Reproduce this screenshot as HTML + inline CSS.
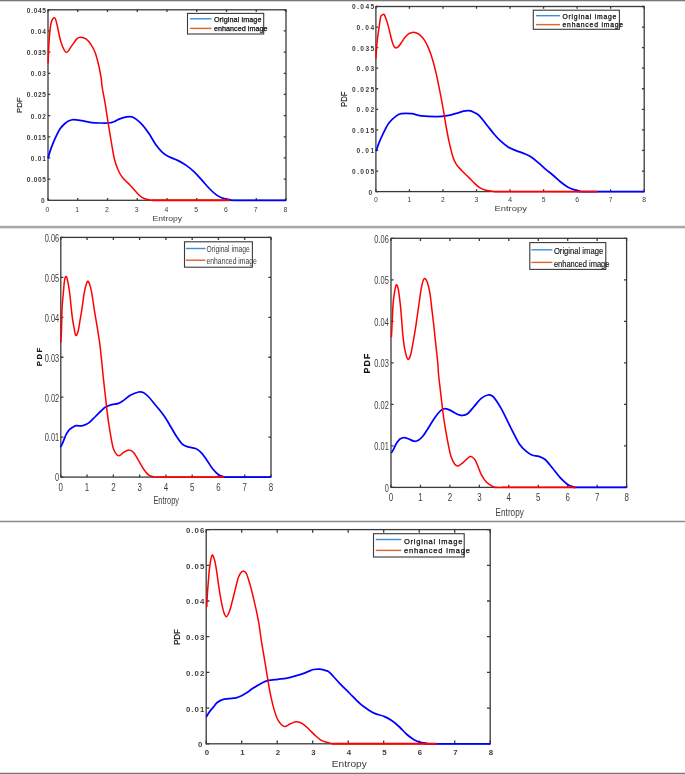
<!DOCTYPE html>
<html><head><meta charset="utf-8"><title>PDF vs Entropy</title>
<style>
html,body{margin:0;padding:0;background:#fff;}
body{width:685px;height:774px;overflow:hidden;}
svg{display:block;}
text{font-family:"Liberation Sans",sans-serif;fill:#3c3c3c;}
.heavy{fill:#111;stroke:#111;stroke-width:0.25px;}
.bold{font-weight:bold;}
.dark{fill:#111;stroke:#111;stroke-width:0.15px;}
</style></head><body>
<svg width="685" height="774" viewBox="0 0 685 774">
<rect x="0" y="0" width="685" height="774" fill="#fff"/>
<rect x="0" y="0" width="685" height="1" fill="#777"/>
<rect x="0" y="1" width="685" height="1" fill="#d8d8d8"/>
<rect x="0" y="225" width="685" height="1" fill="#ececec"/>
<rect x="0" y="226" width="685" height="2" fill="#a8a8a8"/>
<rect x="0" y="228" width="685" height="1" fill="#e2e2e2"/>
<rect x="0" y="520" width="685" height="1" fill="#dedede"/>
<rect x="0" y="521" width="685" height="1" fill="#8f8f8f"/>
<rect x="0" y="522" width="685" height="1" fill="#e0e0e0"/>
<rect x="0" y="773" width="685" height="1" fill="#777"/>
<rect x="0" y="772" width="685" height="1" fill="#dcdcdc"/>
<rect x="48.00" y="9.80" width="238.00" height="190.50" fill="none" stroke="#3a3a3a" stroke-width="1.30"/>
<path d="M48.00,200.30 v-2.30 M48.00,9.80 v2.30 M77.75,200.30 v-2.30 M77.75,9.80 v2.30 M107.50,200.30 v-2.30 M107.50,9.80 v2.30 M137.25,200.30 v-2.30 M137.25,9.80 v2.30 M167.00,200.30 v-2.30 M167.00,9.80 v2.30 M196.75,200.30 v-2.30 M196.75,9.80 v2.30 M226.50,200.30 v-2.30 M226.50,9.80 v2.30 M256.25,200.30 v-2.30 M256.25,9.80 v2.30 M286.00,200.30 v-2.30 M286.00,9.80 v2.30 M48.00,200.30 h2.30 M286.00,200.30 h-2.30 M48.00,179.13 h2.30 M286.00,179.13 h-2.30 M48.00,157.97 h2.30 M286.00,157.97 h-2.30 M48.00,136.80 h2.30 M286.00,136.80 h-2.30 M48.00,115.63 h2.30 M286.00,115.63 h-2.30 M48.00,94.47 h2.30 M286.00,94.47 h-2.30 M48.00,73.30 h2.30 M286.00,73.30 h-2.30 M48.00,52.13 h2.30 M286.00,52.13 h-2.30 M48.00,30.97 h2.30 M286.00,30.97 h-2.30 M48.00,9.80 h2.30 M286.00,9.80 h-2.30" stroke="#3a3a3a" stroke-width="1.3"/>
<path d="M48.10,158.20 C48.43,157.02 49.25,153.65 50.10,151.10 C50.95,148.55 52.17,145.45 53.20,142.90 C54.23,140.35 55.12,138.18 56.30,135.80 C57.48,133.42 58.95,130.57 60.30,128.60 C61.65,126.63 63.03,125.27 64.40,124.00 C65.77,122.73 66.97,121.73 68.50,121.00 C70.03,120.27 71.38,119.65 73.60,119.60 C75.82,119.55 79.07,120.25 81.80,120.70 C84.53,121.15 86.93,121.92 90.00,122.30 C93.07,122.68 97.13,122.88 100.20,123.00 C103.27,123.12 106.10,123.22 108.40,123.00 C110.70,122.78 112.12,122.38 114.00,121.70 C115.88,121.02 117.60,119.72 119.70,118.90 C121.80,118.08 124.57,117.15 126.60,116.80 C128.63,116.45 130.27,116.37 131.90,116.80 C133.53,117.23 134.58,117.98 136.40,119.40 C138.22,120.82 140.65,122.85 142.80,125.30 C144.95,127.75 147.15,130.90 149.30,134.10 C151.45,137.30 153.57,141.50 155.70,144.50 C157.83,147.50 159.97,150.08 162.10,152.10 C164.23,154.12 165.82,155.18 168.50,156.60 C171.18,158.02 175.25,159.13 178.20,160.60 C181.15,162.07 183.53,163.53 186.20,165.40 C188.87,167.27 191.52,169.25 194.20,171.80 C196.88,174.35 199.62,177.75 202.30,180.70 C204.98,183.65 207.90,187.10 210.30,189.50 C212.70,191.90 214.57,193.63 216.70,195.10 C218.83,196.57 220.95,197.55 223.10,198.30 C225.25,199.05 227.78,199.27 229.60,199.60 C231.42,199.93 224.60,200.18 234.00,200.30 C243.40,200.42 277.33,200.30 286.00,200.30" fill="none" stroke="#0000ff" stroke-width="1.75" stroke-linejoin="round" stroke-linecap="butt"/>
<path d="M48.10,63.20 C48.28,59.25 48.68,46.28 49.20,39.50 C49.72,32.72 50.28,26.10 51.20,22.50 C52.12,18.90 53.72,17.47 54.70,17.90 C55.68,18.33 56.05,21.05 57.10,25.10 C58.15,29.15 59.47,37.65 61.00,42.20 C62.53,46.75 64.55,51.75 66.30,52.40 C68.05,53.05 69.75,48.35 71.50,46.10 C73.25,43.85 75.27,40.38 76.80,38.90 C78.33,37.42 79.17,37.20 80.70,37.20 C82.23,37.20 84.25,37.63 86.00,38.90 C87.75,40.17 89.67,42.50 91.20,44.80 C92.73,47.10 93.98,49.42 95.20,52.70 C96.42,55.98 97.52,60.35 98.50,64.50 C99.48,68.65 100.48,73.77 101.10,77.60 C101.72,81.43 101.58,83.53 102.20,87.50 C102.82,91.47 103.92,96.17 104.80,101.40 C105.68,106.63 106.77,114.25 107.50,118.90 C108.23,123.55 108.48,124.95 109.20,129.30 C109.92,133.65 110.93,140.05 111.80,145.00 C112.67,149.95 113.38,154.92 114.40,159.00 C115.42,163.08 116.58,166.45 117.90,169.50 C119.22,172.55 120.27,174.68 122.30,177.30 C124.33,179.92 127.63,182.58 130.10,185.20 C132.57,187.82 135.05,190.92 137.10,193.00 C139.15,195.08 140.65,196.62 142.40,197.70 C144.15,198.78 146.00,199.07 147.60,199.50 C149.20,199.93 151.27,200.17 152.00,200.30" fill="none" stroke="#ff0000" stroke-width="1.50" stroke-linejoin="round"/>
<path d="M152.00,200.30 H229.70" fill="none" stroke="#ff0000" stroke-width="1.90"/>
<text x="44.60" y="203.20" font-size="6.60" font-weight="bold" text-anchor="end" textLength="3.85" lengthAdjust="spacing">0</text>
<text x="46.00" y="182.03" font-size="6.60" font-weight="bold" text-anchor="end" textLength="19.20" lengthAdjust="spacing">0.005</text>
<text x="46.00" y="160.87" font-size="6.60" font-weight="bold" text-anchor="end" textLength="15.35" lengthAdjust="spacing">0.01</text>
<text x="46.00" y="139.70" font-size="6.60" font-weight="bold" text-anchor="end" textLength="19.20" lengthAdjust="spacing">0.015</text>
<text x="46.00" y="118.53" font-size="6.60" font-weight="bold" text-anchor="end" textLength="15.35" lengthAdjust="spacing">0.02</text>
<text x="46.00" y="97.37" font-size="6.60" font-weight="bold" text-anchor="end" textLength="19.20" lengthAdjust="spacing">0.025</text>
<text x="46.00" y="76.20" font-size="6.60" font-weight="bold" text-anchor="end" textLength="15.35" lengthAdjust="spacing">0.03</text>
<text x="46.00" y="55.03" font-size="6.60" font-weight="bold" text-anchor="end" textLength="19.20" lengthAdjust="spacing">0.035</text>
<text x="46.00" y="33.87" font-size="6.60" font-weight="bold" text-anchor="end" textLength="15.35" lengthAdjust="spacing">0.04</text>
<text x="46.00" y="12.70" font-size="6.60" font-weight="bold" text-anchor="end" textLength="19.20" lengthAdjust="spacing">0.045</text>
<text x="47.50" y="212.00" font-size="6.80" font-weight="normal" text-anchor="middle">0</text>
<text x="77.25" y="212.00" font-size="6.80" font-weight="normal" text-anchor="middle">1</text>
<text x="107.00" y="212.00" font-size="6.80" font-weight="normal" text-anchor="middle">2</text>
<text x="136.75" y="212.00" font-size="6.80" font-weight="normal" text-anchor="middle">3</text>
<text x="166.50" y="212.00" font-size="6.80" font-weight="normal" text-anchor="middle">4</text>
<text x="196.25" y="212.00" font-size="6.80" font-weight="normal" text-anchor="middle">5</text>
<text x="226.00" y="212.00" font-size="6.80" font-weight="normal" text-anchor="middle">6</text>
<text x="255.75" y="212.00" font-size="6.80" font-weight="normal" text-anchor="middle">7</text>
<text x="285.50" y="212.00" font-size="6.80" font-weight="normal" text-anchor="middle">8</text>
<text x="152.60" y="220.60" font-size="7.60" textLength="29.50" lengthAdjust="spacingAndGlyphs">Entropy</text>
<text transform="translate(22.00,113.00) rotate(-90)" font-size="7.80" class="dark" font-weight="normal" textLength="15.50" lengthAdjust="spacingAndGlyphs">PDF</text>
<rect x="187.50" y="13.40" width="76.20" height="20.60" fill="#fff" stroke="#3a3a3a" stroke-width="1.1"/>
<path d="M190.00,18.80 H211.50" stroke="#3a8fd9" stroke-width="1.4"/>
<path d="M190.00,28.40 H211.50" stroke="#e0632b" stroke-width="1.4"/>
<text x="213.90" y="22.00" font-size="7.20" class="heavy" textLength="47.50" lengthAdjust="spacing">Original image</text>
<text x="213.90" y="31.20" font-size="7.20" class="heavy" textLength="53.60" lengthAdjust="spacing">enhanced image</text>
<rect x="375.90" y="6.50" width="268.30" height="185.10" fill="none" stroke="#3a3a3a" stroke-width="1.30"/>
<path d="M375.90,191.60 v-2.30 M375.90,6.50 v2.30 M409.44,191.60 v-2.30 M409.44,6.50 v2.30 M442.98,191.60 v-2.30 M442.98,6.50 v2.30 M476.51,191.60 v-2.30 M476.51,6.50 v2.30 M510.05,191.60 v-2.30 M510.05,6.50 v2.30 M543.59,191.60 v-2.30 M543.59,6.50 v2.30 M577.12,191.60 v-2.30 M577.12,6.50 v2.30 M610.66,191.60 v-2.30 M610.66,6.50 v2.30 M644.20,191.60 v-2.30 M644.20,6.50 v2.30 M375.90,191.60 h2.30 M644.20,191.60 h-2.30 M375.90,171.03 h2.30 M644.20,171.03 h-2.30 M375.90,150.47 h2.30 M644.20,150.47 h-2.30 M375.90,129.90 h2.30 M644.20,129.90 h-2.30 M375.90,109.33 h2.30 M644.20,109.33 h-2.30 M375.90,88.77 h2.30 M644.20,88.77 h-2.30 M375.90,68.20 h2.30 M644.20,68.20 h-2.30 M375.90,47.63 h2.30 M644.20,47.63 h-2.30 M375.90,27.07 h2.30 M644.20,27.07 h-2.30 M375.90,6.50 h2.30 M644.20,6.50 h-2.30" stroke="#3a3a3a" stroke-width="1.3"/>
<path d="M376.10,151.10 C376.58,149.73 377.73,146.02 379.00,142.90 C380.27,139.78 382.05,135.72 383.70,132.40 C385.35,129.08 386.95,125.63 388.90,123.00 C390.85,120.37 393.35,118.15 395.40,116.60 C397.45,115.05 398.48,114.18 401.20,113.70 C403.92,113.22 408.40,113.35 411.70,113.70 C415.00,114.05 416.72,115.32 421.00,115.80 C425.28,116.28 433.05,116.62 437.40,116.60 C441.75,116.58 443.97,116.23 447.10,115.70 C450.23,115.17 453.48,114.15 456.20,113.40 C458.92,112.65 461.28,111.65 463.40,111.20 C465.52,110.75 467.08,110.48 468.90,110.70 C470.72,110.92 472.50,111.60 474.30,112.50 C476.10,113.40 477.58,113.98 479.70,116.10 C481.82,118.22 484.58,122.18 487.00,125.20 C489.42,128.22 491.90,131.53 494.20,134.20 C496.50,136.87 498.48,139.07 500.80,141.20 C503.12,143.33 505.67,145.47 508.10,147.00 C510.53,148.53 512.72,149.30 515.40,150.40 C518.08,151.50 521.52,152.47 524.20,153.60 C526.88,154.73 529.07,155.62 531.50,157.20 C533.93,158.78 536.37,161.03 538.80,163.10 C541.23,165.17 543.67,167.53 546.10,169.60 C548.53,171.67 550.97,173.43 553.40,175.50 C555.83,177.57 558.27,180.05 560.70,182.00 C563.13,183.95 565.57,185.85 568.00,187.20 C570.43,188.55 573.35,189.45 575.30,190.10 C577.25,190.75 578.42,190.85 579.70,191.10 C580.98,191.35 572.25,191.52 583.00,191.60 C593.75,191.68 634.00,191.60 644.20,191.60" fill="none" stroke="#0000ff" stroke-width="1.75" stroke-linejoin="round" stroke-linecap="butt"/>
<path d="M375.90,58.60 C376.02,56.82 376.32,51.38 376.60,47.90 C376.88,44.42 377.17,41.27 377.60,37.70 C378.03,34.13 378.68,29.98 379.20,26.50 C379.72,23.02 380.20,18.72 380.70,16.80 C381.20,14.88 381.63,15.40 382.20,15.00 C382.77,14.60 383.50,13.85 384.10,14.40 C384.70,14.95 385.18,16.63 385.80,18.30 C386.42,19.97 387.12,22.02 387.80,24.40 C388.48,26.78 389.22,29.87 389.90,32.60 C390.58,35.33 391.22,38.50 391.90,40.80 C392.58,43.10 393.32,45.22 394.00,46.40 C394.68,47.58 395.23,47.90 396.00,47.90 C396.77,47.90 397.67,47.33 398.60,46.40 C399.53,45.47 400.58,43.75 401.60,42.30 C402.62,40.85 403.50,39.15 404.70,37.70 C405.90,36.25 407.52,34.48 408.80,33.60 C410.08,32.72 411.22,32.53 412.40,32.40 C413.58,32.27 414.63,32.35 415.90,32.80 C417.17,33.25 418.63,33.95 420.00,35.10 C421.37,36.25 422.82,37.82 424.10,39.70 C425.38,41.58 426.58,44.02 427.70,46.40 C428.82,48.78 429.87,51.37 430.80,54.00 C431.73,56.63 432.45,59.13 433.30,62.20 C434.15,65.27 435.25,69.75 435.90,72.40 C436.55,75.05 436.38,74.13 437.20,78.10 C438.02,82.07 439.75,90.77 440.80,96.20 C441.85,101.63 442.60,105.57 443.50,110.70 C444.40,115.83 445.28,121.88 446.20,127.00 C447.12,132.12 447.93,136.58 449.00,141.40 C450.07,146.22 451.40,152.12 452.60,155.90 C453.80,159.68 454.70,161.68 456.20,164.10 C457.70,166.52 459.48,168.15 461.60,170.40 C463.72,172.65 466.78,175.48 468.90,177.60 C471.02,179.72 472.50,181.43 474.30,183.10 C476.10,184.77 477.88,186.45 479.70,187.60 C481.52,188.75 483.38,189.43 485.20,190.00 C487.02,190.57 489.13,190.73 490.60,191.00 C492.07,191.27 493.43,191.50 494.00,191.60" fill="none" stroke="#ff0000" stroke-width="1.50" stroke-linejoin="round"/>
<path d="M494.00,191.60 H597.25" fill="none" stroke="#ff0000" stroke-width="1.90"/>
<text x="372.10" y="194.50" font-size="6.60" font-weight="bold" text-anchor="end" textLength="4.40" lengthAdjust="spacing">0</text>
<text x="374.10" y="173.93" font-size="6.60" font-weight="bold" text-anchor="end" textLength="22.00" lengthAdjust="spacing">0.005</text>
<text x="374.10" y="153.37" font-size="6.60" font-weight="bold" text-anchor="end" textLength="17.60" lengthAdjust="spacing">0.01</text>
<text x="374.10" y="132.80" font-size="6.60" font-weight="bold" text-anchor="end" textLength="22.00" lengthAdjust="spacing">0.015</text>
<text x="374.10" y="112.23" font-size="6.60" font-weight="bold" text-anchor="end" textLength="17.60" lengthAdjust="spacing">0.02</text>
<text x="374.10" y="91.67" font-size="6.60" font-weight="bold" text-anchor="end" textLength="22.00" lengthAdjust="spacing">0.025</text>
<text x="374.10" y="71.10" font-size="6.60" font-weight="bold" text-anchor="end" textLength="17.60" lengthAdjust="spacing">0.03</text>
<text x="374.10" y="50.53" font-size="6.60" font-weight="bold" text-anchor="end" textLength="22.00" lengthAdjust="spacing">0.035</text>
<text x="374.10" y="29.97" font-size="6.60" font-weight="bold" text-anchor="end" textLength="17.60" lengthAdjust="spacing">0.04</text>
<text x="374.10" y="9.40" font-size="6.60" font-weight="bold" text-anchor="end" textLength="22.00" lengthAdjust="spacing">0.045</text>
<text x="375.90" y="201.80" font-size="6.80" font-weight="normal" text-anchor="middle">0</text>
<text x="409.44" y="201.80" font-size="6.80" font-weight="normal" text-anchor="middle">1</text>
<text x="442.98" y="201.80" font-size="6.80" font-weight="normal" text-anchor="middle">2</text>
<text x="476.51" y="201.80" font-size="6.80" font-weight="normal" text-anchor="middle">3</text>
<text x="510.05" y="201.80" font-size="6.80" font-weight="normal" text-anchor="middle">4</text>
<text x="543.59" y="201.80" font-size="6.80" font-weight="normal" text-anchor="middle">5</text>
<text x="577.12" y="201.80" font-size="6.80" font-weight="normal" text-anchor="middle">6</text>
<text x="610.66" y="201.80" font-size="6.80" font-weight="normal" text-anchor="middle">7</text>
<text x="644.20" y="201.80" font-size="6.80" font-weight="normal" text-anchor="middle">8</text>
<text x="494.40" y="211.40" font-size="8.00" textLength="32.50" lengthAdjust="spacingAndGlyphs">Entropy</text>
<text transform="translate(347.20,107.00) rotate(-90)" font-size="8.80" class="dark" font-weight="normal" textLength="15.40" lengthAdjust="spacingAndGlyphs">PDF</text>
<rect x="533.30" y="10.20" width="86.10" height="19.10" fill="#fff" stroke="#3a3a3a" stroke-width="1.1"/>
<path d="M536.00,15.70 H560.00" stroke="#3a8fd9" stroke-width="1.4"/>
<path d="M536.00,24.60 H560.00" stroke="#e0632b" stroke-width="1.4"/>
<text x="562.50" y="18.50" font-size="6.80" class="heavy" textLength="53.80" lengthAdjust="spacing">Original image</text>
<text x="562.50" y="27.00" font-size="6.80" class="heavy" textLength="60.60" lengthAdjust="spacing">enhanced image</text>
<rect x="60.80" y="237.40" width="210.20" height="239.70" fill="none" stroke="#3a3a3a" stroke-width="1.30"/>
<path d="M60.80,477.10 v-2.60 M60.80,237.40 v2.60 M87.07,477.10 v-2.60 M87.07,237.40 v2.60 M113.35,477.10 v-2.60 M113.35,237.40 v2.60 M139.62,477.10 v-2.60 M139.62,237.40 v2.60 M165.90,477.10 v-2.60 M165.90,237.40 v2.60 M192.18,477.10 v-2.60 M192.18,237.40 v2.60 M218.45,477.10 v-2.60 M218.45,237.40 v2.60 M244.72,477.10 v-2.60 M244.72,237.40 v2.60 M271.00,477.10 v-2.60 M271.00,237.40 v2.60 M60.80,477.10 h2.60 M271.00,477.10 h-2.60 M60.80,437.15 h2.60 M271.00,437.15 h-2.60 M60.80,397.20 h2.60 M271.00,397.20 h-2.60 M60.80,357.25 h2.60 M271.00,357.25 h-2.60 M60.80,317.30 h2.60 M271.00,317.30 h-2.60 M60.80,277.35 h2.60 M271.00,277.35 h-2.60 M60.80,237.40 h2.60 M271.00,237.40 h-2.60" stroke="#3a3a3a" stroke-width="1.3"/>
<path d="M60.60,447.10 C60.87,446.58 61.58,445.37 62.20,444.00 C62.82,442.63 63.62,440.53 64.30,438.90 C64.98,437.27 65.45,435.75 66.30,434.20 C67.15,432.65 68.18,430.85 69.40,429.60 C70.62,428.35 72.38,427.35 73.60,426.70 C74.82,426.05 75.33,425.85 76.70,425.70 C78.07,425.55 80.25,426.02 81.80,425.80 C83.35,425.58 84.78,424.93 86.00,424.40 C87.22,423.87 87.90,423.55 89.10,422.60 C90.30,421.65 91.83,420.03 93.20,418.70 C94.57,417.37 95.92,415.97 97.30,414.60 C98.68,413.23 100.12,411.75 101.50,410.50 C102.88,409.25 103.88,408.08 105.60,407.10 C107.32,406.12 109.65,405.22 111.80,404.60 C113.95,403.98 116.53,404.10 118.50,403.40 C120.47,402.70 121.63,401.75 123.60,400.40 C125.57,399.05 127.78,396.70 130.30,395.30 C132.82,393.90 136.47,392.42 138.70,392.00 C140.93,391.58 142.02,391.97 143.70,392.80 C145.38,393.63 146.92,395.05 148.80,397.00 C150.68,398.95 153.13,402.25 155.00,404.50 C156.87,406.75 158.30,408.33 160.00,410.50 C161.70,412.67 163.38,414.75 165.20,417.50 C167.02,420.25 169.00,423.83 170.90,427.00 C172.80,430.17 174.70,433.65 176.60,436.50 C178.50,439.35 180.40,442.37 182.30,444.10 C184.20,445.83 185.80,446.17 188.00,446.90 C190.20,447.63 193.30,447.55 195.50,448.50 C197.70,449.45 199.30,450.65 201.20,452.60 C203.10,454.55 205.00,457.50 206.90,460.20 C208.80,462.90 210.70,466.42 212.60,468.80 C214.50,471.18 216.40,473.15 218.30,474.50 C220.20,475.85 222.38,476.47 224.00,476.90 C225.62,477.33 220.17,477.07 228.00,477.10 C235.83,477.13 263.83,477.10 271.00,477.10" fill="none" stroke="#0000ff" stroke-width="1.75" stroke-linejoin="round" stroke-linecap="butt"/>
<path d="M60.80,342.70 C60.92,340.53 61.28,335.52 61.50,329.70 C61.72,323.88 61.78,314.03 62.10,307.80 C62.42,301.57 62.97,297.03 63.40,292.30 C63.83,287.57 64.17,281.98 64.70,279.40 C65.23,276.82 65.95,275.73 66.60,276.80 C67.25,277.87 68.05,282.78 68.60,285.80 C69.15,288.82 69.48,291.45 69.90,294.90 C70.32,298.35 70.68,302.63 71.10,306.50 C71.52,310.37 71.85,314.23 72.40,318.10 C72.95,321.97 73.82,326.78 74.40,329.70 C74.98,332.62 75.27,335.38 75.90,335.60 C76.53,335.82 77.48,333.70 78.20,331.00 C78.92,328.30 79.55,323.27 80.20,319.40 C80.85,315.53 81.45,312.10 82.10,307.80 C82.75,303.50 83.45,297.37 84.10,293.60 C84.75,289.83 85.37,287.25 86.00,285.20 C86.63,283.15 87.15,280.98 87.90,281.30 C88.65,281.62 89.73,284.40 90.50,287.10 C91.27,289.80 91.85,293.62 92.50,297.50 C93.15,301.38 93.65,305.67 94.40,310.40 C95.15,315.13 96.13,320.52 97.00,325.90 C97.87,331.28 98.85,337.12 99.60,342.70 C100.35,348.28 100.87,353.43 101.50,359.40 C102.13,365.37 102.80,372.80 103.40,378.50 C104.00,384.20 104.53,388.55 105.10,393.60 C105.67,398.65 106.23,404.03 106.80,408.80 C107.37,413.57 107.80,417.45 108.50,422.20 C109.20,426.95 110.17,432.83 111.00,437.30 C111.83,441.77 112.25,445.92 113.50,449.00 C114.75,452.08 116.82,455.23 118.50,455.80 C120.18,456.37 121.92,453.38 123.60,452.40 C125.28,451.42 126.93,449.90 128.60,449.90 C130.27,449.90 131.92,450.58 133.60,452.40 C135.28,454.22 137.02,458.00 138.70,460.80 C140.38,463.60 142.02,466.82 143.70,469.20 C145.38,471.58 147.12,473.85 148.80,475.10 C150.48,476.35 152.43,476.37 153.80,476.70 C155.17,477.03 156.47,477.03 157.00,477.10" fill="none" stroke="#ff0000" stroke-width="1.50" stroke-linejoin="round"/>
<path d="M157.00,477.10 H224.00" fill="none" stroke="#ff0000" stroke-width="1.90"/>
<text x="59.20" y="481.40" font-size="10.40" font-weight="normal" text-anchor="end" textLength="4.10" lengthAdjust="spacingAndGlyphs">0</text>
<text x="59.20" y="441.45" font-size="10.40" font-weight="normal" text-anchor="end" textLength="14.50" lengthAdjust="spacingAndGlyphs">0.01</text>
<text x="59.20" y="401.50" font-size="10.40" font-weight="normal" text-anchor="end" textLength="14.50" lengthAdjust="spacingAndGlyphs">0.02</text>
<text x="59.20" y="361.55" font-size="10.40" font-weight="normal" text-anchor="end" textLength="14.50" lengthAdjust="spacingAndGlyphs">0.03</text>
<text x="59.20" y="321.60" font-size="10.40" font-weight="normal" text-anchor="end" textLength="14.50" lengthAdjust="spacingAndGlyphs">0.04</text>
<text x="59.20" y="281.65" font-size="10.40" font-weight="normal" text-anchor="end" textLength="14.50" lengthAdjust="spacingAndGlyphs">0.05</text>
<text x="59.20" y="241.70" font-size="10.40" font-weight="normal" text-anchor="end" textLength="14.50" lengthAdjust="spacingAndGlyphs">0.06</text>
<text x="60.80" y="491.30" font-size="10.40" font-weight="normal" text-anchor="middle" textLength="4.40" lengthAdjust="spacingAndGlyphs">0</text>
<text x="87.07" y="491.30" font-size="10.40" font-weight="normal" text-anchor="middle" textLength="4.40" lengthAdjust="spacingAndGlyphs">1</text>
<text x="113.35" y="491.30" font-size="10.40" font-weight="normal" text-anchor="middle" textLength="4.40" lengthAdjust="spacingAndGlyphs">2</text>
<text x="139.62" y="491.30" font-size="10.40" font-weight="normal" text-anchor="middle" textLength="4.40" lengthAdjust="spacingAndGlyphs">3</text>
<text x="165.90" y="491.30" font-size="10.40" font-weight="normal" text-anchor="middle" textLength="4.40" lengthAdjust="spacingAndGlyphs">4</text>
<text x="192.18" y="491.30" font-size="10.40" font-weight="normal" text-anchor="middle" textLength="4.40" lengthAdjust="spacingAndGlyphs">5</text>
<text x="218.45" y="491.30" font-size="10.40" font-weight="normal" text-anchor="middle" textLength="4.40" lengthAdjust="spacingAndGlyphs">6</text>
<text x="244.72" y="491.30" font-size="10.40" font-weight="normal" text-anchor="middle" textLength="4.40" lengthAdjust="spacingAndGlyphs">7</text>
<text x="271.00" y="491.30" font-size="10.40" font-weight="normal" text-anchor="middle" textLength="4.40" lengthAdjust="spacingAndGlyphs">8</text>
<text x="153.40" y="504.30" font-size="10.50" textLength="25.60" lengthAdjust="spacingAndGlyphs">Entropy</text>
<text transform="translate(41.80,366.20) rotate(-90)" font-size="7.60" class="dark" font-weight="bold" textLength="18.40" lengthAdjust="spacing">PDF</text>
<rect x="184.50" y="241.80" width="67.90" height="25.40" fill="#fff" stroke="#3a3a3a" stroke-width="1.1"/>
<path d="M185.80,248.50 H205.50" stroke="#3a8fd9" stroke-width="1.4"/>
<path d="M185.80,260.20 H205.50" stroke="#e0632b" stroke-width="1.4"/>
<text x="206.50" y="252.00" font-size="8.60" class="normal" textLength="43.20" lengthAdjust="spacingAndGlyphs">Original image</text>
<text x="206.50" y="263.60" font-size="8.60" class="normal" textLength="50.40" lengthAdjust="spacingAndGlyphs">enhanced image</text>
<rect x="391.00" y="238.30" width="235.60" height="249.10" fill="none" stroke="#3a3a3a" stroke-width="1.30"/>
<path d="M391.00,487.40 v-2.60 M391.00,238.30 v2.60 M420.45,487.40 v-2.60 M420.45,238.30 v2.60 M449.90,487.40 v-2.60 M449.90,238.30 v2.60 M479.35,487.40 v-2.60 M479.35,238.30 v2.60 M508.80,487.40 v-2.60 M508.80,238.30 v2.60 M538.25,487.40 v-2.60 M538.25,238.30 v2.60 M567.70,487.40 v-2.60 M567.70,238.30 v2.60 M597.15,487.40 v-2.60 M597.15,238.30 v2.60 M626.60,487.40 v-2.60 M626.60,238.30 v2.60 M391.00,487.40 h2.60 M626.60,487.40 h-2.60 M391.00,445.88 h2.60 M626.60,445.88 h-2.60 M391.00,404.37 h2.60 M626.60,404.37 h-2.60 M391.00,362.85 h2.60 M626.60,362.85 h-2.60 M391.00,321.33 h2.60 M626.60,321.33 h-2.60 M391.00,279.82 h2.60 M626.60,279.82 h-2.60 M391.00,238.30 h2.60 M626.60,238.30 h-2.60" stroke="#3a3a3a" stroke-width="1.3"/>
<path d="M391.30,453.00 C391.73,452.27 393.03,450.22 393.90,448.60 C394.77,446.98 395.48,444.90 396.50,443.30 C397.52,441.70 398.68,439.97 400.00,439.00 C401.32,438.03 402.93,437.50 404.40,437.50 C405.87,437.50 407.20,438.38 408.80,439.00 C410.40,439.62 412.40,440.98 414.00,441.20 C415.60,441.42 416.93,441.12 418.40,440.30 C419.87,439.48 421.33,438.05 422.80,436.30 C424.27,434.55 425.75,432.05 427.20,429.80 C428.65,427.55 430.05,425.07 431.50,422.80 C432.95,420.53 434.28,418.32 435.90,416.20 C437.52,414.08 439.62,411.35 441.20,410.10 C442.78,408.85 443.85,408.65 445.40,408.70 C446.95,408.75 448.52,409.47 450.50,410.40 C452.48,411.33 455.32,413.45 457.30,414.30 C459.28,415.15 460.68,415.58 462.40,415.50 C464.12,415.42 465.60,415.37 467.60,413.80 C469.60,412.23 472.13,408.67 474.40,406.10 C476.67,403.53 478.93,400.25 481.20,398.40 C483.47,396.55 486.00,395.28 488.00,395.00 C490.00,394.72 491.02,394.47 493.20,396.70 C495.38,398.93 498.75,404.40 501.10,408.40 C503.45,412.40 505.25,416.62 507.30,420.70 C509.35,424.78 511.37,428.98 513.40,432.90 C515.43,436.82 517.45,441.20 519.50,444.20 C521.55,447.20 523.65,449.10 525.70,450.90 C527.75,452.70 529.60,454.08 531.80,455.00 C534.00,455.92 536.68,455.65 538.90,456.40 C541.12,457.15 542.88,457.62 545.10,459.50 C547.32,461.38 549.65,464.63 552.20,467.70 C554.75,470.77 557.83,475.12 560.40,477.90 C562.97,480.68 565.38,482.90 567.60,484.40 C569.82,485.90 571.97,486.40 573.70,486.90 C575.43,487.40 569.18,487.32 578.00,487.40 C586.82,487.48 618.50,487.40 626.60,487.40" fill="none" stroke="#0000ff" stroke-width="1.75" stroke-linejoin="round" stroke-linecap="butt"/>
<path d="M391.40,337.20 C391.53,334.62 391.92,327.30 392.20,321.70 C392.48,316.10 392.73,308.35 393.10,303.60 C393.47,298.85 393.87,296.32 394.40,293.20 C394.93,290.08 395.65,285.53 396.30,284.90 C396.95,284.27 397.65,286.28 398.30,289.40 C398.95,292.52 399.67,298.87 400.20,303.60 C400.73,308.33 401.07,312.63 401.50,317.80 C401.93,322.97 402.27,329.43 402.80,334.60 C403.33,339.77 403.88,344.72 404.70,348.80 C405.52,352.88 406.73,358.03 407.70,359.10 C408.67,360.17 409.60,358.00 410.50,355.20 C411.40,352.40 412.23,347.03 413.10,342.30 C413.97,337.57 414.83,332.40 415.70,326.80 C416.57,321.20 417.43,314.72 418.30,308.70 C419.17,302.68 420.15,295.22 420.90,290.70 C421.65,286.18 422.17,283.65 422.80,281.60 C423.43,279.55 423.95,278.28 424.70,278.40 C425.45,278.52 426.43,279.83 427.30,282.30 C428.17,284.77 429.15,288.80 429.90,293.20 C430.65,297.60 431.15,303.32 431.80,308.70 C432.45,314.08 433.15,319.68 433.80,325.50 C434.45,331.32 435.05,337.52 435.70,343.60 C436.35,349.68 437.23,356.98 437.70,362.00 C438.17,367.02 438.08,369.20 438.50,373.70 C438.92,378.20 439.62,383.88 440.20,389.00 C440.78,394.12 441.42,399.57 442.00,404.40 C442.58,409.23 443.00,413.17 443.70,418.00 C444.40,422.83 445.35,428.55 446.20,433.40 C447.05,438.25 447.95,443.12 448.80,447.10 C449.65,451.08 450.30,454.45 451.30,457.30 C452.30,460.15 453.65,462.77 454.80,464.20 C455.95,465.63 456.78,466.20 458.20,465.90 C459.62,465.60 461.32,463.97 463.30,462.40 C465.28,460.83 468.25,457.07 470.10,456.50 C471.95,455.93 473.12,457.43 474.40,459.00 C475.68,460.57 476.67,463.33 477.80,465.90 C478.93,468.47 479.78,471.70 481.20,474.40 C482.62,477.10 484.30,480.05 486.30,482.10 C488.30,484.15 491.20,485.78 493.20,486.70 C495.20,487.62 496.83,487.48 498.30,487.60 C499.77,487.72 501.38,487.43 502.00,487.40" fill="none" stroke="#ff0000" stroke-width="1.50" stroke-linejoin="round"/>
<path d="M502.00,487.40 H575.70" fill="none" stroke="#ff0000" stroke-width="1.90"/>
<text x="388.80" y="491.90" font-size="10.40" font-weight="normal" text-anchor="end" textLength="4.10" lengthAdjust="spacingAndGlyphs">0</text>
<text x="388.80" y="450.38" font-size="10.40" font-weight="normal" text-anchor="end" textLength="14.50" lengthAdjust="spacingAndGlyphs">0.01</text>
<text x="388.80" y="408.87" font-size="10.40" font-weight="normal" text-anchor="end" textLength="14.50" lengthAdjust="spacingAndGlyphs">0.02</text>
<text x="388.80" y="367.35" font-size="10.40" font-weight="normal" text-anchor="end" textLength="14.50" lengthAdjust="spacingAndGlyphs">0.03</text>
<text x="388.80" y="325.83" font-size="10.40" font-weight="normal" text-anchor="end" textLength="14.50" lengthAdjust="spacingAndGlyphs">0.04</text>
<text x="388.80" y="284.32" font-size="10.40" font-weight="normal" text-anchor="end" textLength="14.50" lengthAdjust="spacingAndGlyphs">0.05</text>
<text x="388.80" y="242.80" font-size="10.40" font-weight="normal" text-anchor="end" textLength="14.50" lengthAdjust="spacingAndGlyphs">0.06</text>
<text x="391.00" y="501.40" font-size="10.40" font-weight="normal" text-anchor="middle" textLength="4.40" lengthAdjust="spacingAndGlyphs">0</text>
<text x="420.45" y="501.40" font-size="10.40" font-weight="normal" text-anchor="middle" textLength="4.40" lengthAdjust="spacingAndGlyphs">1</text>
<text x="449.90" y="501.40" font-size="10.40" font-weight="normal" text-anchor="middle" textLength="4.40" lengthAdjust="spacingAndGlyphs">2</text>
<text x="479.35" y="501.40" font-size="10.40" font-weight="normal" text-anchor="middle" textLength="4.40" lengthAdjust="spacingAndGlyphs">3</text>
<text x="508.80" y="501.40" font-size="10.40" font-weight="normal" text-anchor="middle" textLength="4.40" lengthAdjust="spacingAndGlyphs">4</text>
<text x="538.25" y="501.40" font-size="10.40" font-weight="normal" text-anchor="middle" textLength="4.40" lengthAdjust="spacingAndGlyphs">5</text>
<text x="567.70" y="501.40" font-size="10.40" font-weight="normal" text-anchor="middle" textLength="4.40" lengthAdjust="spacingAndGlyphs">6</text>
<text x="597.15" y="501.40" font-size="10.40" font-weight="normal" text-anchor="middle" textLength="4.40" lengthAdjust="spacingAndGlyphs">7</text>
<text x="626.60" y="501.40" font-size="10.40" font-weight="normal" text-anchor="middle" textLength="4.40" lengthAdjust="spacingAndGlyphs">8</text>
<text x="495.60" y="516.10" font-size="10.50" textLength="28.20" lengthAdjust="spacingAndGlyphs">Entropy</text>
<text transform="translate(370.00,373.40) rotate(-90)" font-size="8.80" class="dark" font-weight="bold" textLength="19.70" lengthAdjust="spacing">PDF</text>
<rect x="529.80" y="242.60" width="76.00" height="26.80" fill="#fff" stroke="#3a3a3a" stroke-width="1.1"/>
<path d="M531.40,249.80 H552.40" stroke="#3a8fd9" stroke-width="1.4"/>
<path d="M531.40,262.40 H552.40" stroke="#e0632b" stroke-width="1.4"/>
<text x="553.90" y="254.00" font-size="9.80" class="dark" textLength="49.30" lengthAdjust="spacingAndGlyphs">Original image</text>
<text x="553.90" y="267.00" font-size="9.80" class="dark" textLength="55.60" lengthAdjust="spacingAndGlyphs">enhanced image</text>
<rect x="206.20" y="529.60" width="284.00" height="214.20" fill="none" stroke="#3a3a3a" stroke-width="1.30"/>
<path d="M206.20,743.80 v-3.20 M206.20,529.60 v3.20 M241.70,743.80 v-3.20 M241.70,529.60 v3.20 M277.20,743.80 v-3.20 M277.20,529.60 v3.20 M312.70,743.80 v-3.20 M312.70,529.60 v3.20 M348.20,743.80 v-3.20 M348.20,529.60 v3.20 M383.70,743.80 v-3.20 M383.70,529.60 v3.20 M419.20,743.80 v-3.20 M419.20,529.60 v3.20 M454.70,743.80 v-3.20 M454.70,529.60 v3.20 M490.20,743.80 v-3.20 M490.20,529.60 v3.20 M206.20,743.80 h3.20 M490.20,743.80 h-3.20 M206.20,708.10 h3.20 M490.20,708.10 h-3.20 M206.20,672.40 h3.20 M490.20,672.40 h-3.20 M206.20,636.70 h3.20 M490.20,636.70 h-3.20 M206.20,601.00 h3.20 M490.20,601.00 h-3.20 M206.20,565.30 h3.20 M490.20,565.30 h-3.20 M206.20,529.60 h3.20 M490.20,529.60 h-3.20" stroke="#3a3a3a" stroke-width="1.3"/>
<path d="M206.30,717.00 C206.75,716.23 207.93,713.92 209.00,712.40 C210.07,710.88 211.33,709.55 212.70,707.90 C214.07,706.25 215.55,703.88 217.20,702.50 C218.85,701.12 220.63,700.23 222.60,699.60 C224.57,698.97 226.73,699.00 229.00,698.70 C231.27,698.40 234.10,698.30 236.20,697.80 C238.30,697.30 239.78,696.58 241.60,695.70 C243.42,694.82 245.28,693.70 247.10,692.50 C248.92,691.30 250.70,689.70 252.50,688.50 C254.30,687.30 256.25,686.27 257.90,685.30 C259.55,684.33 260.62,683.52 262.40,682.70 C264.18,681.88 266.02,680.97 268.60,680.40 C271.18,679.83 274.80,679.68 277.90,679.30 C281.00,678.92 284.10,678.70 287.20,678.10 C290.30,677.50 293.40,676.62 296.50,675.70 C299.60,674.78 302.95,673.63 305.80,672.60 C308.65,671.57 311.27,670.08 313.60,669.50 C315.93,668.92 317.73,668.92 319.80,669.10 C321.87,669.28 324.30,669.98 326.00,670.60 C327.70,671.22 327.68,670.63 330.00,672.80 C332.32,674.97 336.60,680.15 339.90,683.60 C343.20,687.05 346.50,690.20 349.80,693.50 C353.10,696.80 356.80,700.80 359.70,703.40 C362.60,706.00 364.72,707.43 367.20,709.10 C369.68,710.77 371.70,712.15 374.60,713.40 C377.50,714.65 381.70,715.37 384.60,716.60 C387.50,717.83 389.52,719.07 392.00,720.80 C394.48,722.53 397.02,724.72 399.50,727.00 C401.98,729.28 404.42,732.35 406.90,734.50 C409.38,736.65 411.92,738.53 414.40,739.90 C416.88,741.27 419.73,742.13 421.80,742.70 C423.87,743.27 425.43,743.12 426.80,743.30 C428.17,743.48 419.43,743.72 430.00,743.80 C440.57,743.88 480.17,743.80 490.20,743.80" fill="none" stroke="#0000ff" stroke-width="1.75" stroke-linejoin="round" stroke-linecap="butt"/>
<path d="M206.80,607.00 C206.90,604.85 207.10,598.90 207.40,594.10 C207.70,589.30 208.20,582.90 208.60,578.20 C209.00,573.50 209.23,569.70 209.80,565.90 C210.37,562.10 211.28,556.63 212.00,555.40 C212.72,554.17 213.43,556.55 214.10,558.50 C214.77,560.45 215.38,563.62 216.00,567.10 C216.62,570.58 217.20,575.30 217.80,579.40 C218.40,583.50 218.98,587.82 219.60,591.70 C220.22,595.58 220.78,599.23 221.50,602.70 C222.22,606.17 223.08,610.15 223.90,612.50 C224.72,614.85 225.47,617.00 226.40,616.80 C227.33,616.60 228.58,613.65 229.50,611.30 C230.42,608.95 230.98,606.18 231.90,602.70 C232.82,599.22 233.97,594.48 235.00,590.40 C236.03,586.32 237.18,581.07 238.10,578.20 C239.02,575.33 239.65,574.40 240.50,573.20 C241.35,572.00 242.27,571.00 243.20,571.00 C244.13,571.00 245.22,571.80 246.10,573.20 C246.98,574.60 247.68,576.93 248.50,579.40 C249.32,581.87 250.08,584.52 251.00,588.00 C251.92,591.48 253.08,596.42 254.00,600.30 C254.92,604.18 255.68,607.42 256.50,611.30 C257.32,615.18 258.05,618.42 258.90,623.60 C259.75,628.78 260.75,636.93 261.60,642.40 C262.45,647.87 263.22,651.75 264.00,656.40 C264.78,661.05 265.53,665.65 266.30,670.30 C267.07,674.95 267.83,679.90 268.60,684.30 C269.37,688.70 270.00,692.57 270.90,696.70 C271.80,700.83 272.83,705.23 274.00,709.10 C275.17,712.97 276.22,717.02 277.90,719.90 C279.58,722.78 282.03,725.75 284.10,726.40 C286.17,727.05 288.23,724.57 290.30,723.80 C292.37,723.03 294.43,721.80 296.50,721.80 C298.57,721.80 300.63,722.57 302.70,723.80 C304.77,725.03 306.83,727.27 308.90,729.20 C310.97,731.13 313.03,733.53 315.10,735.40 C317.17,737.27 319.23,739.23 321.30,740.40 C323.37,741.57 325.72,741.83 327.50,742.40 C329.28,742.97 331.25,743.57 332.00,743.80" fill="none" stroke="#ff0000" stroke-width="1.50" stroke-linejoin="round"/>
<path d="M332.00,743.80 H436.70" fill="none" stroke="#ff0000" stroke-width="1.90"/>
<text x="202.40" y="747.20" font-size="7.80" font-weight="bold" text-anchor="end" textLength="4.70" lengthAdjust="spacing">0</text>
<text x="204.40" y="711.50" font-size="7.80" font-weight="bold" text-anchor="end" textLength="18.50" lengthAdjust="spacing">0.01</text>
<text x="204.40" y="675.80" font-size="7.80" font-weight="bold" text-anchor="end" textLength="18.50" lengthAdjust="spacing">0.02</text>
<text x="204.40" y="640.10" font-size="7.80" font-weight="bold" text-anchor="end" textLength="18.50" lengthAdjust="spacing">0.03</text>
<text x="204.40" y="604.40" font-size="7.80" font-weight="bold" text-anchor="end" textLength="18.50" lengthAdjust="spacing">0.04</text>
<text x="204.40" y="568.70" font-size="7.80" font-weight="bold" text-anchor="end" textLength="18.50" lengthAdjust="spacing">0.05</text>
<text x="204.40" y="533.00" font-size="7.80" font-weight="bold" text-anchor="end" textLength="18.50" lengthAdjust="spacing">0.06</text>
<text x="206.80" y="754.80" font-size="7.80" font-weight="bold" text-anchor="middle">0</text>
<text x="242.30" y="754.80" font-size="7.80" font-weight="bold" text-anchor="middle">1</text>
<text x="277.80" y="754.80" font-size="7.80" font-weight="bold" text-anchor="middle">2</text>
<text x="313.30" y="754.80" font-size="7.80" font-weight="bold" text-anchor="middle">3</text>
<text x="348.80" y="754.80" font-size="7.80" font-weight="bold" text-anchor="middle">4</text>
<text x="384.30" y="754.80" font-size="7.80" font-weight="bold" text-anchor="middle">5</text>
<text x="419.80" y="754.80" font-size="7.80" font-weight="bold" text-anchor="middle">6</text>
<text x="455.30" y="754.80" font-size="7.80" font-weight="bold" text-anchor="middle">7</text>
<text x="490.80" y="754.80" font-size="7.80" font-weight="bold" text-anchor="middle">8</text>
<text x="331.80" y="767.30" font-size="9.20" textLength="35.00" lengthAdjust="spacingAndGlyphs">Entropy</text>
<text transform="translate(180.20,645.00) rotate(-90)" font-size="9.20" class="dark" font-weight="normal" textLength="16.00" lengthAdjust="spacingAndGlyphs">PDF</text>
<rect x="373.50" y="533.70" width="90.70" height="23.30" fill="#fff" stroke="#3a3a3a" stroke-width="1.1"/>
<path d="M375.70,539.50 H401.30" stroke="#3a8fd9" stroke-width="1.4"/>
<path d="M375.70,550.40 H401.30" stroke="#e0632b" stroke-width="1.4"/>
<text x="404.00" y="543.50" font-size="7.50" class="heavy" textLength="58.30" lengthAdjust="spacing">Original image</text>
<text x="404.00" y="553.30" font-size="7.50" class="heavy" textLength="65.80" lengthAdjust="spacing">enhanced image</text>
</svg>
</body></html>
